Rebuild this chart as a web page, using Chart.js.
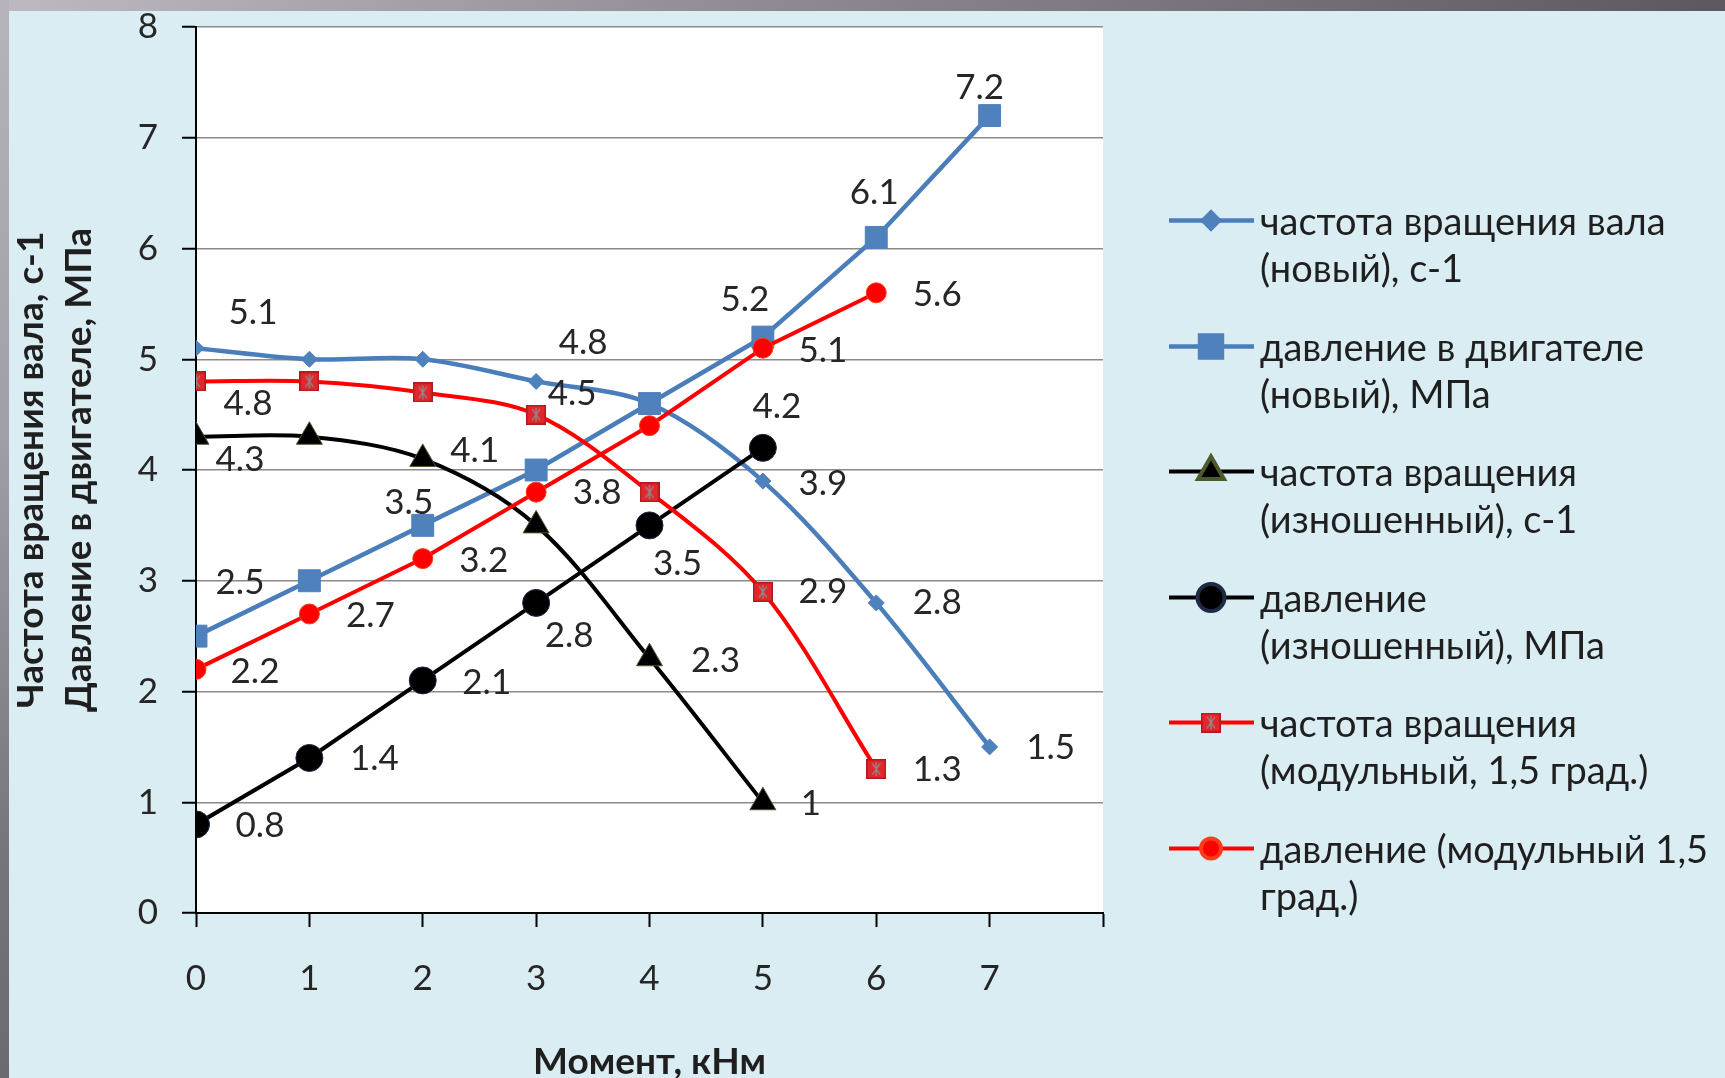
<!DOCTYPE html>
<html lang="ru">
<head>
<meta charset="utf-8">
<title>Характеристики двигателя</title>
<script src="https://cdn.jsdelivr.net/npm/chart.js@4.4.1/dist/chart.umd.min.js"></script>
<style>
  html, body { margin: 0; padding: 0; }
  body {
    width: 1725px; height: 1078px; overflow: hidden; position: relative;
    background: #daedf3; font-family: Lato, sans-serif;
  }
  .band-top {
    position: absolute; left: 0; top: 0; width: 100%; height: 11px;
    background: linear-gradient(to right, #bdb9c0, #8e8a93 45%, #5b5860);
  }
  .band-left {
    position: absolute; left: 0; top: 0; width: 9px; height: 100%;
    background: linear-gradient(to bottom, #b7b3ba, #a29ea7 40%, #76737b 80%, #6c6970);
  }
  #chart { position: absolute; left: 0; top: 0; }
  #legend { position: absolute; left: 1169px; top: 197px; }
  .item { display: flex; align-items: flex-start; margin-bottom: 31.6px; }
  .item canvas { flex: none; }
  .item span { font-size: 38px; line-height: 47px; color: #1f1f1f; white-space: pre; }
</style>
</head>
<body>
<div class="band-top"></div>
<div class="band-left"></div>
<canvas id="chart" width="1725" height="1078"></canvas>
<div id="legend"></div>
<script>
// Момент на валу, кНм
const moments = [0, 1, 2, 3, 4, 5, 6, 7];
const yTicks = [0, 1, 2, 3, 4, 5, 6, 7, 8];

// новый двигатель
const shaftSpeedNew = [5.1, 5.0, 5.0, 4.8, 4.6, 3.9, 2.8, 1.5];
const pressureNew = [2.5, 3.0, 3.5, 4.0, 4.6, 5.2, 6.1, 7.2];
// изношенный двигатель
const speedWorn = [4.3, 4.3, 4.1, 3.5, 2.3, 1.0];
const pressureWorn = [0.8, 1.4, 2.1, 2.8, 3.5, 4.2];
// модульный, 1,5 град.
const speedModular = [4.8, 4.8, 4.7, 4.5, 3.8, 2.9, 1.3];
const pressureModular = [2.2, 2.7, 3.2, 3.8, 4.4, 5.1, 5.6];

const seriesNames = [
  'частота вращения вала\n(новый), с-1',
  'давление в двигателе\n(новый), МПа',
  'частота вращения\n(изношенный), с-1',
  'давление\n(изношенный), МПа',
  'частота вращения\n(модульный, 1,5 град.)',
  'давление (модульный 1,5\nград.)'
];

// where each value label sits relative to its point (null = no label)
const labelOffsets = [
  [[57, -35], null, null, [47, -39], null, [60, 3], [61, 0], [61, 1]],
  [[44, -53], null, [-14, -23], null, null, [-18, -37], [-2, -45], [-10, -28]],
  [[44, 23], null, [52, -8], null, [66, 2], [48, 1]],
  [[64, 1], [65, 1], [64, 2], [33, 33], [28, 38], [14, -41]],
  [[52, 22], null, null, [36, -21], null, [60, 0], [61, 1]],
  [[59, 2], [61, 2], [61, 2], [61, 1], null, [60, 3], [61, 2]]
];

const FONT = 'Lato, sans-serif';
const BLUE = '#4a7ebb';
const BLUE_MARK = '#4f81bd';
const RED = '#ff0000';

// red square with a grey cross, used for the modular speed series
function crossedSquare(size) {
  const c = document.createElement('canvas');
  c.width = c.height = size;
  const g = c.getContext('2d');
  g.fillStyle = '#e3262b';
  g.fillRect(0, 0, size, size);
  g.strokeStyle = '#b01a1f';
  g.lineWidth = 1.5;
  g.strokeRect(0.75, 0.75, size - 1.5, size - 1.5);
  g.strokeStyle = '#8d8d8d';
  g.lineWidth = 1.3;
  g.beginPath();
  g.moveTo(size * 0.3, size * 0.22); g.lineTo(size * 0.7, size * 0.78);
  g.moveTo(size * 0.7, size * 0.22); g.lineTo(size * 0.3, size * 0.78);
  g.moveTo(size / 2, size * 0.15); g.lineTo(size / 2, size * 0.85);
  g.stroke();
  return c;
}

function toPoints(values) {
  return values.map((v, i) => ({ x: moments[i], y: v }));
}

const series = [
  { values: shaftSpeedNew, color: BLUE, mark: BLUE_MARK, edge: BLUE_MARK, style: 'rectRot', radius: 8, width: 4.5, tension: 0.33 },
  { values: pressureNew, color: BLUE, mark: BLUE_MARK, edge: BLUE_MARK, style: 'rect', radius: 15.5, width: 4.5, tension: 0 },
  { values: speedWorn, color: '#000000', mark: '#000000', edge: '#4d5a2b', style: 'triangle', radius: 15, width: 4, tension: 0.33 },
  { values: pressureWorn, color: '#000000', mark: '#000000', edge: '#1f2a44', style: 'circle', radius: 13.5, width: 4, tension: 0 },
  { values: speedModular, color: RED, mark: '#e3262b', edge: '#b01a1f', style: crossedSquare(20), radius: 10, width: 4, tension: 0.33 },
  { values: pressureModular, color: RED, mark: RED, edge: '#ff3b1a', style: 'circle', radius: 10, width: 4, tension: 0 }
];

const datasets = series.map((s, i) => ({
  label: seriesNames[i],
  data: toPoints(s.values),
  borderColor: s.color,
  borderWidth: s.width,
  backgroundColor: s.mark,
  pointBackgroundColor: s.mark,
  pointBorderColor: s.edge,
  pointBorderWidth: 1,
  pointStyle: s.style,
  pointRadius: s.radius,
  tension: s.tension,
  order: series.length - i
}));

const plotBackground = {
  id: 'plotBackground',
  beforeDraw(chart) {
    const { ctx, chartArea: a } = chart;
    ctx.save();
    ctx.fillStyle = '#ffffff';
    ctx.fillRect(a.left, a.top, a.right - a.left, a.bottom - a.top);
    ctx.restore();
  }
};

const valueLabels = {
  id: 'valueLabels',
  afterDatasetsDraw(chart) {
    const ctx = chart.ctx;
    ctx.save();
    ctx.font = '35px ' + FONT;
    ctx.fillStyle = '#262626';
    ctx.textAlign = 'center';
    ctx.textBaseline = 'middle';
    chart.data.datasets.forEach((ds, di) => {
      const meta = chart.getDatasetMeta(di);
      meta.data.forEach((pt, i) => {
        const off = labelOffsets[di][i];
        if (!off) return;
        ctx.fillText(String(ds.data[i].y), pt.x + off[0], pt.y + off[1]);
      });
    });
    ctx.restore();
  }
};

new Chart(document.getElementById('chart'), {
  type: 'line',
  data: { datasets },
  options: {
    responsive: false,
    animation: false,
    devicePixelRatio: 1,
    layout: { autoPadding: false, padding: { top: 27, right: 622, bottom: 0, left: 0 } },
    plugins: { legend: { display: false }, tooltip: { enabled: false } },
    scales: {
      x: {
        type: 'linear',
        min: 0,
        max: 8,
        afterFit(scale) {
          scale.height = 165;
          scale.paddingLeft = 0;
          scale.paddingRight = 0;
        },
        afterBuildTicks(scale) { scale.ticks = yTicks.map(v => ({ value: v })); },
        grid: { drawOnChartArea: false, drawTicks: true, tickLength: 14, tickColor: '#000000', tickWidth: 2 },
        border: { color: '#000000', width: 2 },
        ticks: {
          padding: 31,
          color: '#262626',
          font: { family: FONT, size: 35 },
          callback: v => (moments.includes(v) ? String(v) : '')
        },
        title: {
          display: true,
          text: 'Момент, кНм',
          color: '#1f1f1f',
          font: { family: FONT, size: 37, weight: 'bold', lineHeight: '40px' },
          padding: { top: 0, bottom: -4 }
        }
      },
      y: {
        min: 0,
        max: 8,
        afterFit(scale) {
          scale.width = 196;
          scale.paddingTop = 0;
          scale.paddingBottom = 0;
        },
        afterBuildTicks(scale) { scale.ticks = yTicks.map(v => ({ value: v })); },
        grid: { color: '#8a8a8a', lineWidth: 1.5, tickLength: 14, tickColor: '#000000', tickWidth: 2 },
        border: { color: '#000000', width: 2 },
        ticks: {
          padding: 24,
          color: '#262626',
          font: { family: FONT, size: 35 }
        },
        title: {
          display: true,
          text: ['Частота вращения вала, с-1', 'Давление в двигателе, МПа'],
          color: '#1f1f1f',
          font: { family: FONT, size: 37, weight: 'bold', lineHeight: '48px' },
          padding: { top: 7, bottom: 0 }
        }
      }
    }
  },
  plugins: [plotBackground, valueLabels]
});

// legend with the line sample and marker of each series
const legend = document.getElementById('legend');
series.forEach((s, i) => {
  const item = document.createElement('div');
  item.className = 'item';
  const c = document.createElement('canvas');
  c.width = 91;
  c.height = 47;
  const g = c.getContext('2d');
  g.strokeStyle = s.color;
  g.lineWidth = s.width;
  g.beginPath();
  g.moveTo(0, 23.5);
  g.lineTo(85, 23.5);
  g.stroke();
  g.fillStyle = s.mark;
  g.strokeStyle = s.edge;
  Chart.helpers.drawPoint(g, { pointStyle: s.style, radius: s.radius, rotation: 0, borderWidth: 1 }, 42, 23.5);
  const t = document.createElement('span');
  t.textContent = seriesNames[i];
  item.appendChild(c);
  item.appendChild(t);
  legend.appendChild(item);
});
</script>
</body>
</html>
